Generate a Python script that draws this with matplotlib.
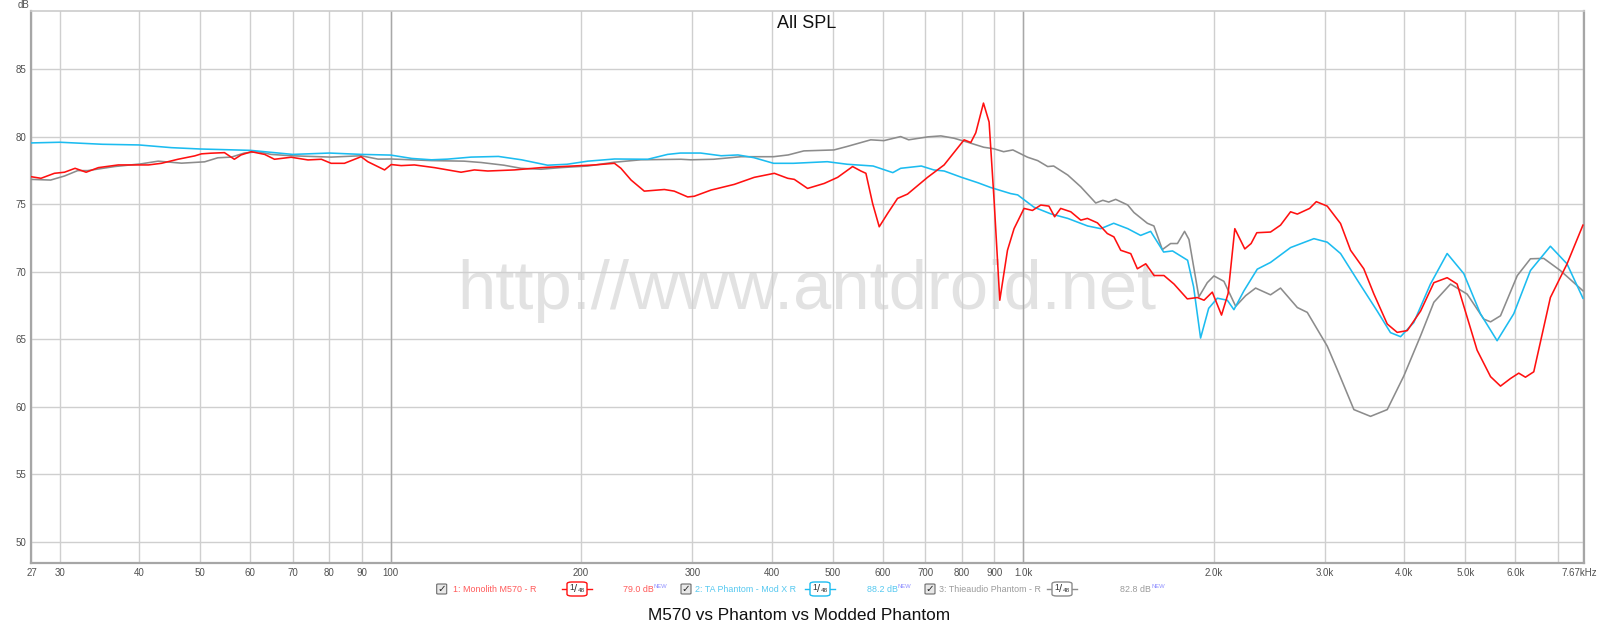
import numpy as np
import matplotlib
matplotlib.use("Agg")
import matplotlib.pyplot as plt
from matplotlib.patches import FancyBboxPatch
from matplotlib.lines import Line2D
from matplotlib.transforms import ScaledTranslation

# ---------------- data ----------------
red_freq = [27, 28, 29.4, 30.5, 31.7, 33.0, 34.5, 37.1, 41.4, 43.4, 46.1, 49.0, 50.2, 52.0, 54.6,
            56.6, 58.0, 60.2, 63.2, 65.5, 69.6, 74.0, 77.7, 80.5, 84.5, 89.8, 92.0, 97.8, 100.2,
            103.9, 109.0, 117.3, 129.2, 135.6, 142.4, 156.9, 172.8, 200, 209.9, 225.8, 231.2,
            239.9, 251.7, 270.8, 280.7, 294.8, 301.9, 321, 349.3, 375.6, 404.1, 424.3, 434.6,
            456.1, 484.6, 508.8, 537.3, 553.8, 564, 577.9, 592, 610.4, 632.8, 656.2, 705.8,
            749.7, 806.3, 826.2, 841.3, 865.2, 883.1, 899.3, 918.1, 944.2, 967.1, 1002.9, 1034,
            1066, 1098, 1121, 1146, 1189, 1233, 1263, 1310, 1358, 1391, 1426, 1479, 1515, 1562,
            1610, 1669, 1731, 1817, 1885, 1931, 1990, 2058, 2108, 2160, 2240, 2292, 2340, 2460,
            2551, 2646, 2712, 2836, 2906, 3024, 3174, 3292, 3454, 3583, 3762, 3901, 4046, 4248,
            4458, 4679, 4852, 5218, 5480, 5682, 5891, 6072, 6222, 6413, 6813, 7237, 7670]
red_db = [77.05, 76.93, 77.3, 77.38, 77.67, 77.38, 77.72, 77.92, 77.92, 78.04, 78.34, 78.59, 78.74,
          78.79, 78.83, 78.34, 78.66, 78.9, 78.7, 78.34, 78.49, 78.29, 78.34, 78.04, 78.04, 78.53,
          78.16, 77.55, 77.95, 77.87, 77.92, 77.72, 77.38, 77.55, 77.47, 77.55, 77.72, 77.87,
          77.92, 78.04, 77.67, 76.8, 75.98, 76.1, 75.98, 75.55, 75.6, 76.06, 76.48, 77.0, 77.3,
          76.93, 76.85, 76.18, 76.55, 77.0, 77.8, 77.47, 77.3, 75.07, 73.34, 74.33, 75.44, 75.76,
          77.0, 77.92, 79.78, 79.58, 80.3, 82.5, 81.1, 75.3, 67.9, 71.6, 73.2, 74.7, 74.55, 74.95,
          74.87, 74.08, 74.7, 74.45, 73.83, 73.96, 73.63, 72.84, 72.59, 71.6, 71.35, 70.23, 70.6,
          69.73, 69.73, 69.1, 68.0, 68.1, 67.9, 68.5, 66.8, 68.4, 73.2, 71.7, 72.1, 72.9, 72.95,
          73.46, 74.45, 74.28, 74.7, 75.2, 74.87, 73.58, 71.6, 70.23, 68.37, 66.14, 65.52, 65.65,
          67.1, 69.2, 69.57, 69.1, 64.2, 62.24, 61.54, 62.1, 62.5, 62.2, 62.6, 68.1, 70.58, 73.46]

blue_freq = [27, 30, 35, 40, 45, 50, 60, 70, 80, 90, 100, 108, 116, 123, 134, 148, 161, 177, 190,
             205, 226, 255, 274, 287, 309, 333, 354, 375, 403, 433, 490, 527, 579, 622, 640, 690,
             722, 750, 799, 848, 888, 955, 980, 1039, 1105, 1176, 1264, 1326, 1390, 1463, 1533,
             1590, 1667, 1722, 1819, 1859, 1907, 1964, 2027, 2102, 2153, 2233, 2344, 2460, 2646,
             2881, 3024, 3174, 3373, 3627, 3807, 3949, 4144, 4403, 4679, 4971, 5281, 5612, 5963,
             6336, 6813, 7237, 7670]
blue_db = [79.55, 79.6, 79.45, 79.4, 79.2, 79.1, 79.0, 78.7, 78.8, 78.7, 78.65, 78.4, 78.3, 78.35,
           78.5, 78.55, 78.3, 77.9, 77.97, 78.2, 78.36, 78.34, 78.7, 78.8, 78.8, 78.6, 78.66, 78.46,
           78.04, 78.04, 78.16, 77.97, 77.84, 77.35, 77.67, 77.84, 77.55, 77.47, 77.0, 76.6, 76.25,
           75.8, 75.7, 74.8, 74.3, 73.96, 73.4, 73.2, 73.6, 73.2, 72.7, 73.0, 71.47, 71.55, 70.86,
           68.9, 65.1, 67.3, 68.05, 67.9, 67.2, 68.6, 70.2, 70.7, 71.8, 72.46, 72.2, 71.36, 69.4,
           67.1, 65.5, 65.2, 66.25, 69.1, 71.36, 69.87, 66.9, 64.9, 66.9, 70.1, 71.9, 70.6, 68.05]

gray_freq = [27, 29, 30.5, 32, 33.2, 36.6, 40.3, 42.9, 46.7, 50.8, 53.3, 56, 58.7, 61.7, 64.7,
             69.6, 80.5, 89.8, 95.5, 100, 116, 130.6, 139, 151, 160.7, 172.8, 185.6, 205, 225.6,
             248.6, 287.6, 298, 324, 358, 403, 425, 450, 502, 526, 574, 602, 640, 659, 707, 741,
             777, 817, 866, 898, 931, 963, 1016, 1054, 1093, 1117, 1176, 1233, 1302, 1336, 1365,
             1400, 1463, 1496, 1571, 1609, 1659, 1710, 1753, 1799, 1828, 1895, 1954, 2002, 2076,
             2167, 2247, 2330, 2460, 2551, 2712, 2812, 3024, 3136, 3332, 3540, 3762, 3997, 4248,
             4458, 4737, 5033, 5347, 5480, 5682, 6039, 6336, 6650, 7065, 7670]
gray_db = [76.85, 76.8, 77.1, 77.5, 77.5, 77.8, 78.0, 78.2, 78.05, 78.15, 78.45, 78.5, 78.8, 78.9,
           78.7, 78.6, 78.5, 78.6, 78.35, 78.36, 78.24, 78.2, 78.1, 77.9, 77.67, 77.6, 77.72, 77.84,
           78.12, 78.3, 78.34, 78.3, 78.34, 78.53, 78.53, 78.66, 78.96, 79.03, 79.28, 79.78, 79.72,
           80.02, 79.78, 80.0, 80.07, 79.9, 79.6, 79.23, 79.12, 78.9, 79.03, 78.49, 78.24, 77.8,
           77.84, 77.17, 76.3, 75.1, 75.3, 75.17, 75.37, 74.95, 74.4, 73.6, 73.4, 71.65, 72.1, 72.1,
           73.0, 72.4, 68.15, 69.2, 69.7, 69.3, 67.45, 68.24, 68.8, 68.3, 68.8, 67.36, 67.0, 64.5,
           62.77, 59.8, 59.3, 59.8, 62.3, 65.27, 67.75, 69.1, 68.35, 66.5, 66.3, 66.75, 69.72,
           70.97, 71.0, 70.1, 68.6]

x_ticks = [27, 30, 40, 50, 60, 70, 80, 90, 100, 200, 300, 400, 500, 600, 700, 800, 900,
           1000, 2000, 3000, 4000, 5000, 6000, 7000, 7670]
x_labels = ["27", "30", "40", "50", "60", "70", "80", "90", "100", "200", "300", "400", "500",
            "600", "700", "800", "900", "1.0k", "2.0k", "3.0k", "4.0k", "5.0k", "6.0k", "",
            "7.67kHz"]
y_ticks = [50, 55, 60, 65, 70, 75, 80, 85]

series_names = ["1: Monolith M570 - R", "2: TA Phantom - Mod X R", "3: Thieaudio Phantom - R"]
series_levels = ["79.0 dB", "88.2 dB", "82.8 dB"]

# ---------------- layout ----------------
W, H = 1600, 630
FONT = "Liberation Sans"
RED, BLUE, GRAY = "#ff1010", "#1cbcf0", "#8c8c8c"
LRED, LBLUE, LGRAY = "#ff5a5a", "#55c8f0", "#9a9a9a"

fig = plt.figure(figsize=(W / 100, H / 100), dpi=100)
fig.patch.set_facecolor("white")
ax = fig.add_axes([31 / W, 1 - 563 / H, (1584 - 31) / W, (563 - 11) / H])
ax.set_xscale("log")
ax.set_xlim(27, 7700)
ax.set_ylim(48.44, 89.32)

ax.set_xticks(x_ticks)
ax.set_xticklabels(x_labels)
ax.xaxis.set_minor_locator(matplotlib.ticker.NullLocator())
ax.set_yticks(y_ticks)
ax.set_yticklabels([str(v) for v in y_ticks])
ax.tick_params(length=0, labelsize=7.0, labelcolor="#505050", pad=3.5)
for lab in ax.get_xticklabels() + ax.get_yticklabels():
    lab.set_fontfamily(FONT)
xl = ax.get_xticklabels()
xl[-1].set_ha("right")
xl[-1].set_transform(xl[-1].get_transform() + ScaledTranslation(14 / 100, 0, fig.dpi_scale_trans))
xl[0].set_transform(xl[0].get_transform() + ScaledTranslation(1 / 100, 0, fig.dpi_scale_trans))

ax.set_axisbelow(True)
ax.grid(True, color="#cfcfcf", linewidth=1.0)
for f in (100, 1000):
    ax.axvline(f, color="#a8a8a8", linewidth=1.0, zorder=0.6)

for side, sp in ax.spines.items():
    sp.set_color("#a6a6a6")
    sp.set_linewidth(1.6)
ax.spines["top"].set_color("#cccccc")
ax.spines["top"].set_linewidth(1.2)

# watermark
ax.text(807 / W, 1 - 291 / H, "http://www.antdroid.net", transform=fig.transFigure,
        fontsize=49.5, color="#e2e2e2", family=FONT, ha="center", va="center", zorder=0.2)

ax.plot(gray_freq, gray_db, color=GRAY, linewidth=1.15, zorder=3)
ax.plot(blue_freq, blue_db, color=BLUE, linewidth=1.15, zorder=4)
ax.plot(red_freq, red_db, color=RED, linewidth=1.15, zorder=5)

# dB label and in-plot title
fig.text(18 / W, 1 - 5 / H, "dB", fontsize=7.0, color="#505050", family=FONT, ha="left", va="center")
fig.text(807 / W, 1 - 24 / H, "All SPL", fontsize=13, color="#111111", family=FONT,
         ha="center", va="center")

# bottom title
fig.text(799 / W, 1 - 616 / H, "M570 vs Phantom vs Modded Phantom", fontsize=12.4,
         color="#111111", family=FONT, ha="center", va="center")

# legend row
ly = 589
def fx(x):
    return x / W
def fy(y):
    return 1 - y / H

items = [
    dict(cb=441.7, tx=453, col=RED, tcol=LRED, box=577, lvl=623, lvl_txt=series_levels[0],
         name=series_names[0]),
    dict(cb=686, tx=695, col=BLUE, tcol=LBLUE, box=820, lvl=867, lvl_txt=series_levels[1],
         name=series_names[1]),
    dict(cb=930, tx=939, col=GRAY, tcol=LGRAY, box=1062, lvl=1120, lvl_txt=series_levels[2],
         name=series_names[2]),
]
for it in items:
    fig.patches.append(FancyBboxPatch((fx(it["cb"] - 5), fy(ly + 5)), 10 / W, 10 / H,
                                      boxstyle="round,pad=0,rounding_size=0.001",
                                      transform=fig.transFigure, facecolor="#e8e8e8",
                                      edgecolor="#6a6a6a", linewidth=0.8))
    fig.text(fx(it["cb"]), fy(ly), "\u2713", fontsize=7.5, color="#222222", family="DejaVu Sans",
             ha="center", va="center", weight="bold")
    fig.text(fx(it["tx"]), fy(ly), it["name"], fontsize=6.4, color=it["tcol"], family=FONT,
             ha="left", va="center")
    fig.lines.append(Line2D([fx(it["box"] - 15), fx(it["box"] + 15)], [fy(ly), fy(ly)],
                            transform=fig.transFigure, color=it["col"], linewidth=1.0))
    fig.patches.append(FancyBboxPatch((fx(it["box"] - 10), fy(ly + 7)), 20 / W, 14 / H,
                                      boxstyle="round,pad=0,rounding_size=0.003",
                                      transform=fig.transFigure, facecolor="white",
                                      edgecolor=it["col"], linewidth=1.0, zorder=3))
    fig.text(fx(it["box"] - 5), fy(ly - 1), "1", fontsize=6.2, color="#333333", family=FONT,
             ha="center", va="center", zorder=4)
    fig.text(fx(it["box"] - 1.5), fy(ly), "/", fontsize=8, color="#333333", family=FONT,
             ha="center", va="center", zorder=4)
    fig.text(fx(it["box"] + 4), fy(ly + 2), "48", fontsize=4.6, color="#333333", family=FONT,
             ha="center", va="center", zorder=4)
    fig.text(fx(it["lvl"]), fy(ly), it["lvl_txt"], fontsize=6.4, color=it["tcol"],
             family=FONT, ha="left", va="center")
    fig.text(fx(it["lvl"] + 31), fy(ly - 3), "NEW", fontsize=4.2, color="#8f8fff",
             family=FONT, ha="left", va="center")

fig.savefig("out.png", dpi=100, facecolor="white")
